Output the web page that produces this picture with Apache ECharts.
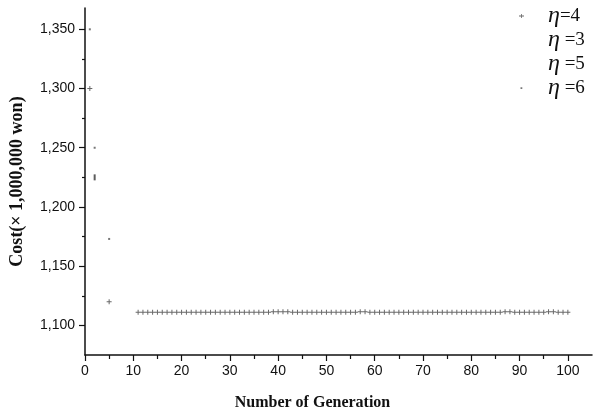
<!DOCTYPE html>
<html>
<head>
<meta charset="utf-8">
<script src="https://cdn.jsdelivr.net/npm/echarts@6/dist/echarts.min.js"></script>
<style>html,body{margin:0;padding:0;background:#fff;}#c{width:593px;height:419px;}</style>
</head>
<body>
<div id="c"></div>
<script>
// ---- data ----
var seriesNames = ['η=4', 'η =3', 'η =5', 'η =6'];
var yMajorTicks = [1100, 1150, 1200, 1250, 1300, 1350];
var yMinorTicks = [1125, 1175, 1225, 1275, 1325];
var xTicks = [0, 10, 20, 30, 40, 50, 60, 70, 80, 90, 100];

// eta=4 : generation / cost
var eta4Gen = [1, 5, 11, 12, 13, 14, 15, 16, 17, 18, 19, 20, 21, 22, 23, 24, 25, 26, 27, 28, 29, 30,
  31, 32, 33, 34, 35, 36, 37, 38, 39, 40, 41, 42, 43, 44, 45, 46, 47, 48, 49, 50,
  51, 52, 53, 54, 55, 56, 57, 58, 59, 60, 61, 62, 63, 64, 65, 66, 67, 68, 69, 70,
  71, 72, 73, 74, 75, 76, 77, 78, 79, 80, 81, 82, 83, 84, 85, 86, 87, 88, 89, 90,
  91, 92, 93, 94, 95, 96, 97, 98, 99, 100];
var eta4Cost = [1300, 1120, 1111, 1111, 1111, 1111, 1111, 1111, 1111, 1111, 1111, 1111, 1111, 1111, 1111, 1111, 1111, 1111, 1111, 1111, 1111, 1111,
  1111, 1111, 1111, 1111, 1111, 1111, 1111, 1111, 1111.5, 1111.5, 1111.5, 1111.5, 1111, 1111, 1111, 1111, 1111, 1111, 1111, 1111,
  1111, 1111, 1111, 1111, 1111, 1111, 1111.5, 1111.5, 1111, 1111, 1111, 1111, 1111, 1111, 1111, 1111, 1111, 1111, 1111, 1111,
  1111, 1111, 1111, 1111, 1111, 1111, 1111, 1111, 1111, 1111, 1111, 1111, 1111, 1111, 1111, 1111, 1111.5, 1111.5, 1111, 1111,
  1111, 1111, 1111, 1111, 1111, 1111.5, 1111.5, 1111, 1111, 1111];
var eta3Gen = [2];
var eta3Cost = [1250];
var eta5Gen = [2];
var eta5Cost = [1225];
var eta6Gen = [1, 5];
var eta6Cost = [1350, 1173];

function pairs(g, c) { return g.map(function (x, i) { return [x, c[i]]; }); }

var plusPath = 'path://M0,1.6H4V2.4H0Z M1.6,0H2.4V4H1.6Z';
var dotPath = 'path://M0,0H4V4H0Z';
// legend icons: small glyph inside a 40x14 box (corner specks fix the box)
var legPlus = 'path://M0,0h0.01v0.01h-0.01Z M39.99,13.99h0.01v0.01h-0.01Z M16,6.6H21V7.4H16Z M18.1,5H18.9V9H18.1Z';
var legDot = 'path://M0,0h0.01v0.01h-0.01Z M39.99,13.99h0.01v0.01h-0.01Z M17.5,6.2H19.3V8H17.5Z';

var chart = echarts.init(document.getElementById('c'), null, { renderer: 'canvas' });
var txt = '#111';
chart.setOption({
  animation: false,
  backgroundColor: '#fff',
  grid: { left: 82, right: 1, top: 8, bottom: 64 },
  legend: {
    orient: 'vertical',
    left: 503, top: 4, padding: 0,
    itemWidth: 40, itemHeight: 14, itemGap: 0,
    data: [
      { name: seriesNames[0], icon: legPlus },
      { name: seriesNames[1], icon: 'none' },
      { name: seriesNames[2], icon: 'none' },
      { name: seriesNames[3], icon: legDot }
    ],
    formatter: function (n) { var p = n.split('η'); return '{e|η}{t|' + p[1] + '}'; },
    textStyle: {
      color: txt, lineHeight: 20,
      rich: {
        e: { fontFamily: 'Liberation Serif', fontStyle: 'italic', fontSize: 24, color: txt, lineHeight: 20 },
        t: { fontFamily: 'Liberation Serif', fontSize: 19, color: txt, lineHeight: 20 }
      }
    }
  },
  xAxis: {
    type: 'value', min: 0, max: 105, interval: 10,
    name: 'Number of Generation', nameLocation: 'middle', nameGap: 40,
    nameTextStyle: { fontFamily: 'Liberation Serif', fontWeight: 'bold', fontSize: 16, color: txt, padding: [0, 52, 0, 0] },
    axisLine: { lineStyle: { color: txt, width: 1.5 } },
    axisTick: { show: true, length: 6, lineStyle: { color: txt, width: 1.2 }, customValues: xTicks },
    minorTick: { show: true, splitNumber: 2, length: 4, lineStyle: { color: txt, width: 1.2 } },
    axisLabel: { customValues: xTicks, fontFamily: 'Liberation Sans', fontSize: 14, color: txt, margin: 9 },
    splitLine: { show: false }
  },
  yAxis: [{
    type: 'value', min: 1075, max: 1368,
    name: 'Cost(× 1,000,000 won)', nameLocation: 'middle', nameGap: 59,
    nameTextStyle: { fontFamily: 'Liberation Serif', fontWeight: 'bold', fontSize: 18, color: txt },
    axisLine: { lineStyle: { color: txt, width: 1.5 } },
    axisTick: { show: true, length: 6, lineStyle: { color: txt, width: 1.2 }, customValues: yMajorTicks },
    axisLabel: {
      customValues: yMajorTicks, fontFamily: 'Liberation Sans', fontSize: 14, color: txt, margin: 10,
      formatter: function (v) { return v.toLocaleString('en-US'); }
    },
    splitLine: { show: false }
  }, {
    type: 'value', min: 1075, max: 1368, position: 'left',
    axisLine: { show: false },
    axisTick: { show: true, length: 3, lineStyle: { color: txt, width: 1.2 }, customValues: yMinorTicks },
    axisLabel: { show: false },
    splitLine: { show: false }
  }],
  series: [
    { name: seriesNames[0], type: 'scatter', data: pairs(eta4Gen, eta4Cost), symbol: plusPath, symbolSize: 5, itemStyle: { color: '#444' } },
    { name: seriesNames[1], type: 'scatter', data: pairs(eta3Gen, eta3Cost), symbol: dotPath, symbolSize: 2, itemStyle: { color: '#555' } },
    { name: seriesNames[2], type: 'scatter', data: pairs(eta5Gen, eta5Cost), symbol: 'path://M1,0H3V8H1Z', symbolSize: [2, 6], itemStyle: { color: '#333' } },
    { name: seriesNames[3], type: 'scatter', data: pairs(eta6Gen, eta6Cost), symbol: dotPath, symbolSize: 2, itemStyle: { color: '#555' } }
  ]
});
</script>
</body>
</html>
